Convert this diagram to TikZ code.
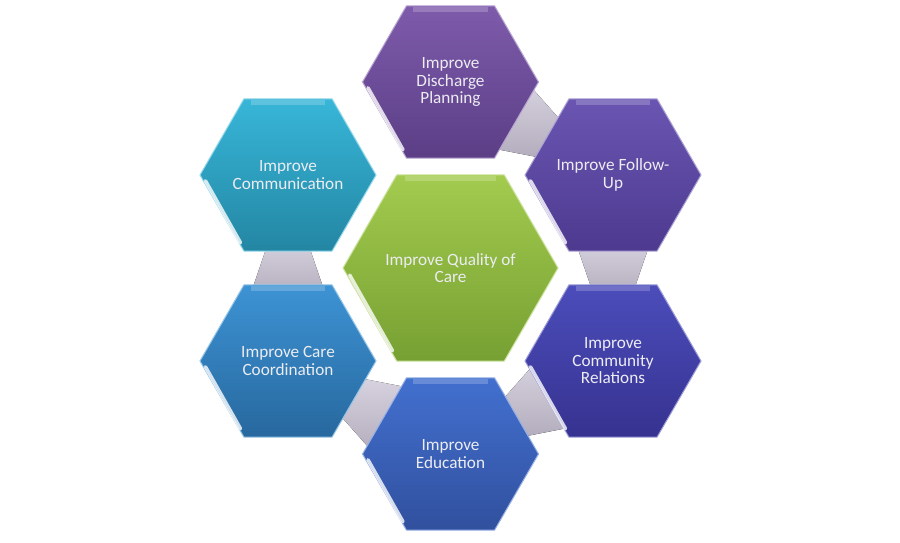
\documentclass[tikz,border=0pt]{standalone}
\usepackage{fontspec}
\setmainfont{Carlito}
\usetikzlibrary{shapes.geometric,positioning,calc}
\pgfdeclarelayer{background}
\pgfsetlayers{background,main}
\definecolor{txtgray}{HTML}{ECECF2}
\definecolor{qtop}{HTML}{A3CB4F}\definecolor{qbot}{HTML}{76A032}
\definecolor{dtop}{HTML}{7E5BAB}\definecolor{dbot}{HTML}{5B3E86}
\definecolor{ftop}{HTML}{6A56B2}\definecolor{fbot}{HTML}{4D3A8F}
\definecolor{ctop}{HTML}{4C4DBB}\definecolor{cbot}{HTML}{363290}
\definecolor{etop}{HTML}{4270CF}\definecolor{ebot}{HTML}{31509E}
\definecolor{ktop}{HTML}{3D93D4}\definecolor{kbot}{HTML}{27689E}
\definecolor{mtop}{HTML}{38B6D8}\definecolor{mbot}{HTML}{2386A3}
\definecolor{brlight}{HTML}{D8D3E0}\definecolor{brdark}{HTML}{B2ACBC}

\begin{document}
\begin{tikzpicture}[x=1pt,y=1pt,on grid,node distance=186pt and 162.5pt,
    hexcell/.style={regular polygon,regular polygon sides=6,minimum size=176pt,
      inner sep=0pt,line width=1pt},
    hextext/.style={align=center,text=txtgray,inner sep=0pt,
      font=\fontsize{17.2}{17.5}\selectfont},
    bridge/.style={top color=brlight,bottom color=brdark,draw=none},
    shine/.style={white,opacity=0.8,line width=3.5pt,line cap=round},
    bevel/.style={white,opacity=0.2,line width=5pt}]
  \useasboundingbox (0,0) rectangle (900,543);
  % hexagons
  \node[hexcell,minimum size=215pt,top color=qtop,bottom color=qbot,draw=qtop!55!white,
    label={[hextext]center:Improve Quality of\\Care}] (Q) at (450.5,275) {};
  \node[hexcell,top color=dtop,bottom color=dbot,draw=dtop!55!white,
    label={[hextext]center:Improve\\Discharge\\Planning}] (D) [above=of Q] {};
  \node[hexcell,top color=ftop,bottom color=fbot,draw=ftop!55!white,
    label={[hextext]center:Improve Follow-\\Up}] (F) [above right=93pt and 162.5pt of Q] {};
  \node[hexcell,top color=ctop,bottom color=cbot,draw=ctop!55!white,
    label={[hextext]center:Improve\\Community\\Relations}] (C) [below right=93pt and 162.5pt of Q] {};
  \node[hexcell,top color=etop,bottom color=ebot,draw=etop!55!white,
    label={[hextext]center:Improve\\Education}] (E) [below=of Q] {};
  \node[hexcell,top color=ktop,bottom color=kbot,draw=ktop!55!white,
    label={[hextext]center:Improve Care\\Coordination}] (K) [below left=93pt and 162.5pt of Q] {};
  \node[hexcell,top color=mtop,bottom color=mbot,draw=mtop!55!white,
    label={[hextext]center:Improve\\Communication}] (M) [above left=93pt and 162.5pt of Q] {};
  % highlights on the edges
  \foreach \n/\r in {Q/107.5,D/88,F/88,C/88,E/88,K/88,M/88} {
    \draw[shine] ($(\n)+(184:{0.94*\r})$) -- ($(\n)+(235:{0.94*\r})$);
    \draw[bevel] ($(\n)+(117:{0.93*\r})$) -- ($(\n)+(63:{0.93*\r})$);
  }
  % grey links behind the ring
  \begin{pgfonlayer}{background}
    \fill[white] (0,0) rectangle (900,543);
    \foreach \a/\b in {D/F,F/C,C/E,E/K,K/M}
      \fill[bridge] ($(\a)!0.35!(\b)!38pt!90:(\b)$) -- ($(\a)!0.35!(\b)!38pt!-90:(\b)$)
        -- ($(\a)!0.65!(\b)!19pt!-90:(\b)$) -- ($(\a)!0.65!(\b)!19pt!90:(\b)$) -- cycle;
  \end{pgfonlayer}
\end{tikzpicture}
\end{document}
